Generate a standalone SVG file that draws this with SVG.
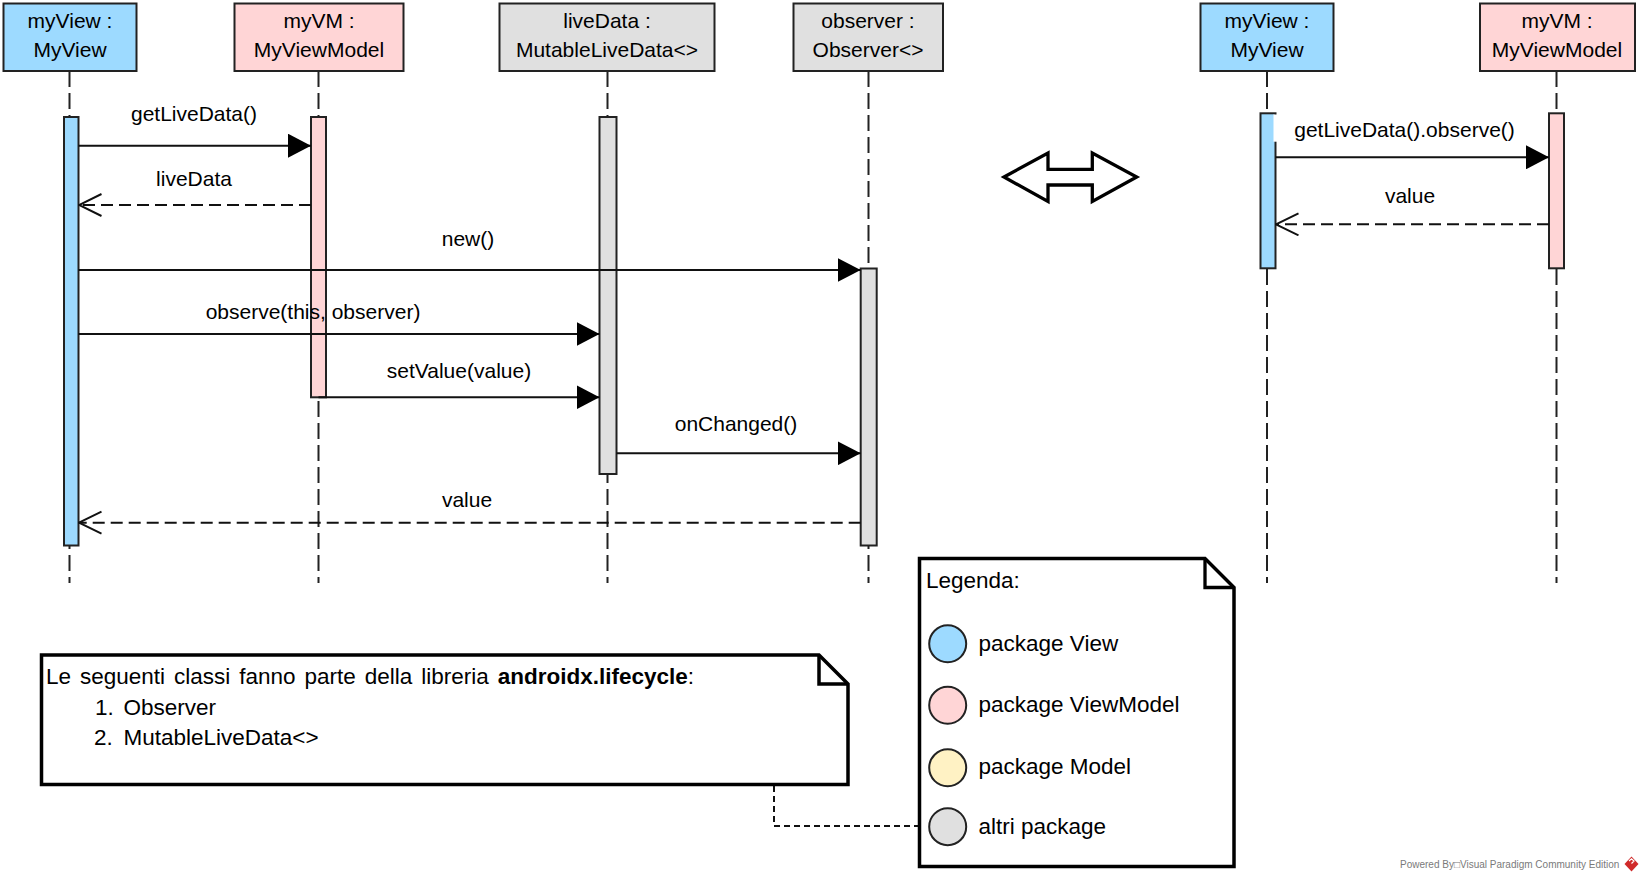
<svg xmlns="http://www.w3.org/2000/svg" width="1644" height="881" viewBox="0 0 1644 881">
<style>
  text { font-family: "Liberation Sans", Arial, sans-serif; fill: #000; }
  .hdr { font-size: 21px; text-anchor: middle; }
  .lbl { font-size: 21px; text-anchor: middle; }
  .note { font-size: 22.5px; }
  .box { stroke: #222; stroke-width: 2; }
  .life { stroke: #222; stroke-width: 2; stroke-dasharray: 16 6; fill: none; }
  .act { stroke: #222; stroke-width: 2; }
  .view { fill: #9DDAFF; }
  .vm { fill: #FFD5D6; }
  .model { fill: #FFF2C4; }
  .other { fill: #E0E0E0; }
  .msg { stroke: #111; stroke-width: 2; fill: none; }
  .ret { stroke: #111; stroke-width: 2; fill: none; stroke-dasharray: 12 6; }
  .notebox { fill: #fff; stroke: #000; stroke-width: 3.5; stroke-linejoin: miter; }
  .circ { stroke: #222; stroke-width: 2; }
</style>
<defs>
  <marker id="filled" markerUnits="userSpaceOnUse" viewBox="0 0 23 24" refX="23" refY="12" markerWidth="23" markerHeight="24" orient="auto">
    <path d="M0,0 L23,12 L0,24 Z" fill="#000" stroke="none"/>
  </marker>
  <marker id="open" markerUnits="userSpaceOnUse" viewBox="-1 -1 25 25" refX="22.5" refY="11" markerWidth="25" markerHeight="25" orient="auto">
    <path d="M0,0 L22.5,11 L0,22" fill="none" stroke="#111" stroke-width="2"/>
  </marker>
</defs>
<rect x="0" y="0" width="1644" height="881" fill="#fff"/>

<g id="lifeline-myView">
  <line class="life" x1="69.5" y1="71" x2="69.5" y2="583"/>
  <rect class="box view" x="3.5" y="3.5" width="133" height="67.5"/>
  <text class="hdr" x="70" y="27.5">myView :</text>
  <text class="hdr" x="70" y="56.5">MyView</text>
  <rect class="act view" x="64" y="117" width="14.5" height="428.5"/>
</g>

<g id="lifeline-myVM">
  <line class="life" x1="318.5" y1="71" x2="318.5" y2="583"/>
  <rect class="box vm" x="234.5" y="3.5" width="169" height="67.5"/>
  <text class="hdr" x="319" y="27.5">myVM :</text>
  <text class="hdr" x="319" y="56.5">MyViewModel</text>
  <rect class="act vm" x="311" y="117" width="15" height="280.3"/>
</g>

<g id="lifeline-liveData">
  <line class="life" x1="607.5" y1="71" x2="607.5" y2="583"/>
  <rect class="box other" x="499.5" y="3.5" width="215" height="67.5"/>
  <text class="hdr" x="607" y="27.5">liveData :</text>
  <text class="hdr" x="607" y="56.5">MutableLiveData&lt;&gt;</text>
  <rect class="act other" x="599.5" y="117" width="17" height="357"/>
</g>

<g id="lifeline-observer">
  <line class="life" x1="868.5" y1="71" x2="868.5" y2="583"/>
  <rect class="box other" x="793.5" y="3.5" width="149.5" height="67.5"/>
  <text class="hdr" x="868" y="27.5">observer :</text>
  <text class="hdr" x="868" y="56.5">Observer&lt;&gt;</text>
  <rect class="act other" x="860.7" y="268.5" width="16" height="277"/>
</g>

<g id="lifeline-myView-2">
  <line class="life" x1="1267" y1="71" x2="1267" y2="583"/>
  <rect class="box view" x="1200.5" y="3.5" width="133" height="67.5"/>
  <text class="hdr" x="1267" y="27.5">myView :</text>
  <text class="hdr" x="1267" y="56.5">MyView</text>
  <rect class="act view" x="1260.5" y="113.3" width="15" height="155"/>
  <rect x="1273.5" y="114.5" width="4" height="27.2" fill="#fff"/>
</g>

<g id="lifeline-myVM-2">
  <line class="life" x1="1556.5" y1="71" x2="1556.5" y2="583"/>
  <rect class="box vm" x="1480" y="3.5" width="155" height="67.5"/>
  <text class="hdr" x="1557" y="27.5">myVM :</text>
  <text class="hdr" x="1557" y="56.5">MyViewModel</text>
  <rect class="act vm" x="1549" y="113.3" width="15" height="155"/>
</g>

<g id="equivalence-arrow">
  <polygon points="1004,177 1048,153 1048,169.3 1092.3,169.3 1092.3,153 1136.7,177 1092.3,201.5 1092.3,185 1048,185 1048,201.5" fill="#fff" stroke="#000" stroke-width="3.3" stroke-linejoin="miter"/>
</g>

<g id="connectors">
  <line class="msg" x1="78.5" y1="145.7" x2="311" y2="145.7" marker-end="url(#filled)"/>
  <text class="lbl" x="194" y="121">getLiveData()</text>

  <line class="ret" x1="311" y1="205" x2="79" y2="205" marker-end="url(#open)"/>
  <text class="lbl" x="194" y="185.5">liveData</text>

  <line class="msg" x1="78.5" y1="270" x2="860.7" y2="270" marker-end="url(#filled)"/>
  <text class="lbl" x="468" y="246">new()</text>

  <line class="msg" x1="78.5" y1="334" x2="599.5" y2="334" marker-end="url(#filled)"/>
  <text class="lbl" x="313" y="318.5">observe(this, observer)</text>

  <line class="msg" x1="318.5" y1="397.3" x2="599.5" y2="397.3" marker-end="url(#filled)"/>
  <text class="lbl" x="459" y="377.5">setValue(value)</text>

  <line class="msg" x1="616.5" y1="453.3" x2="860.7" y2="453.3" marker-end="url(#filled)"/>
  <text class="lbl" x="736" y="430.5">onChanged()</text>

  <line class="ret" x1="860.7" y1="522.7" x2="79" y2="522.7" marker-end="url(#open)"/>
  <text class="lbl" x="467" y="507">value</text>

  <line class="msg" x1="1275.5" y1="157.3" x2="1549" y2="157.3" marker-end="url(#filled)"/>
  <text class="lbl" x="1404.5" y="136.5">getLiveData().observe()</text>

  <line class="ret" x1="1549" y1="224.3" x2="1276" y2="224.3" marker-end="url(#open)"/>
  <text class="lbl" x="1410" y="202.5">value</text>

  <polyline points="774,786 774,826 919,826" fill="none" stroke="#111" stroke-width="2" stroke-dasharray="6 4"/>
</g>

<g id="note-library">
  <path class="notebox" d="M41.5,655 L819,655 L848,684 L848,784.5 L41.5,784.5 Z"/>
  <path d="M819,655 L819,684 L848,684" fill="none" stroke="#000" stroke-width="3.5"/>
  <text class="note" x="46" y="683.5" word-spacing="2.7">Le seguenti classi fanno parte della libreria <tspan font-weight="bold">androidx.lifecycle</tspan>:</text>
  <text class="note" x="95" y="715">1.</text>
  <text class="note" x="123.5" y="715">Observer</text>
  <text class="note" x="94" y="745">2.</text>
  <text class="note" x="123.5" y="745">MutableLiveData&lt;&gt;</text>
</g>

<g id="legend">
  <path class="notebox" d="M919.5,558.5 L1205,558.5 L1234,587.5 L1234,866.5 L919.5,866.5 Z" stroke-width="3.3"/>
  <path d="M1205,558.5 L1205,587.5 L1234,587.5" fill="none" stroke="#000" stroke-width="3.3"/>
  <text class="note" x="926" y="588">Legenda:</text>
  <circle class="circ view" cx="947.7" cy="643.8" r="18.5"/>
  <text class="note" x="978.5" y="650.5">package View</text>
  <circle class="circ vm" cx="947.7" cy="705.3" r="18.5"/>
  <text class="note" x="978.5" y="712">package ViewModel</text>
  <circle class="circ model" cx="947.7" cy="767.8" r="18.5"/>
  <text class="note" x="978.5" y="773.5">package Model</text>
  <circle class="circ other" cx="947.7" cy="826.7" r="18.5"/>
  <text class="note" x="978.5" y="833.5">altri package</text>
</g>

<g id="watermark">
  <text x="1400" y="867.5" font-size="10" fill="#7a7a7a" style="font-family: 'Liberation Sans', Arial, sans-serif; fill:#7a7a7a">Powered By□Visual Paradigm Community Edition</text>
  <polygon points="1631.5,856.5 1638.5,864 1631.5,871.5 1624.5,864" fill="#D02A2A"/>
  <polyline points="1629,861 1631.5,858.8 1634,861 1631.5,863.5" fill="none" stroke="#fff" stroke-width="1.2"/>
</g>
</svg>
